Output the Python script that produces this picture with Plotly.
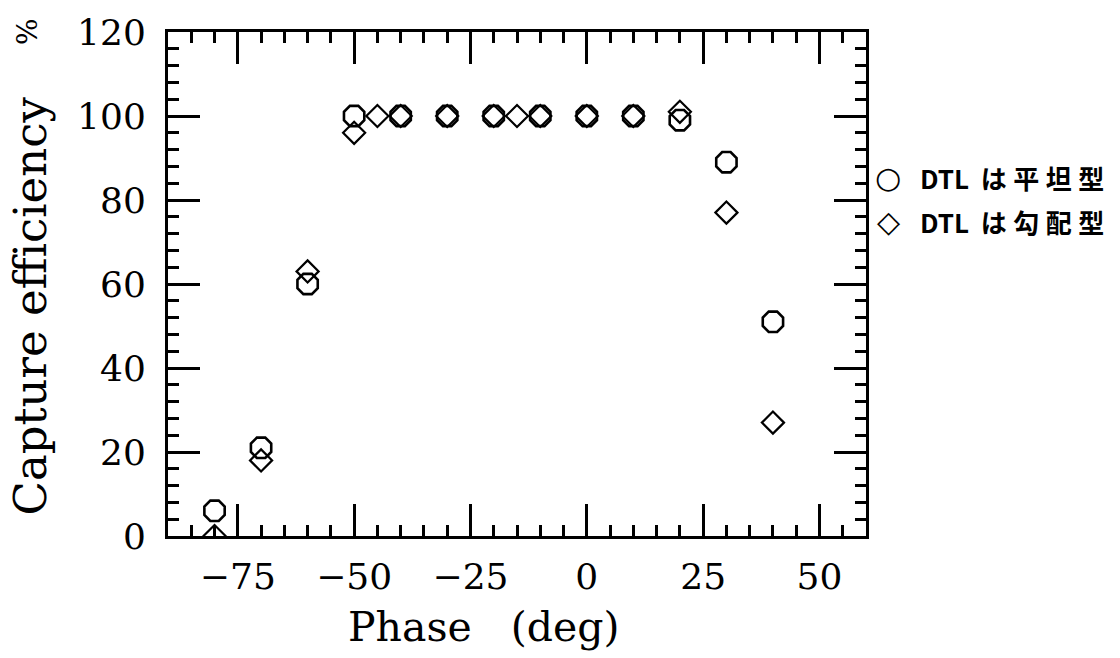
import plotly.graph_objects as go

# Capture efficiency vs. RF phase for two DTL configurations
phase_flat = [-80, -70, -60, -50, -40, -30, -20, -10, 0, 10, 20, 30, 40]
eff_flat = [6, 21, 60, 100, 100, 100, 100, 100, 100, 100, 99, 89, 51]

phase_grad = [-80, -70, -60, -50, -45, -40, -30, -20, -15, -10, 0, 10, 20, 30, 40]
eff_grad = [0, 18, 63, 96, 100, 100, 100, 100, 100, 100, 100, 100, 101, 77, 27]

x_ticks = [-75, -50, -25, 0, 25, 50]
y_ticks = [0, 20, 40, 60, 80, 100, 120]

label_flat = "DTL は平坦型"
label_grad = "DTL は勾配型"

W, H = 1120, 658
L, R, T, B = 168, 866, 22, 536

def px(xp):
    return (xp - L) / (R - L)

def py(yp):
    return (B - yp) / (B - T)

serif = "DejaVu Serif"

fig = go.Figure()
fig.add_trace(go.Scatter(
    x=phase_flat, y=eff_flat, mode="markers", name=label_flat,
    marker=dict(symbol="octagon-open", size=22, color="black",
                line=dict(color="black", width=2.6)),
    showlegend=False, cliponaxis=True))
fig.add_trace(go.Scatter(
    x=phase_grad, y=eff_grad, mode="markers", name=label_grad,
    marker=dict(symbol="diamond-open", size=17, color="black",
                line=dict(color="black", width=2.2)),
    showlegend=False, cliponaxis=True))

axis_common = dict(
    showline=True, linewidth=3, linecolor="black", mirror="allticks",
    ticks="inside", ticklen=32, tickwidth=2.5, tickcolor="black",
    showgrid=False, zeroline=False,
    tickfont=dict(family=serif, size=36, color="black"),
)

fig.update_xaxes(
    range=[-90, 60], tickmode="array", tickvals=x_ticks,
    ticktext=["\u2212" + str(abs(v)) if v < 0 else str(v) for v in x_ticks],
    minor=dict(ticks="inside", ticklen=11, tickwidth=2.5, tickcolor="black",
               dtick=5, tick0=0, showgrid=False),
    ticklabelstandoff=7,
    **axis_common)
fig.update_yaxes(
    range=[0, 120], tickmode="array", tickvals=y_ticks,
    minor=dict(ticks="inside", ticklen=11, tickwidth=2.5, tickcolor="black",
               dtick=4, tick0=0, showgrid=False),
    ticklabelstandoff=12,
    **axis_common)

annotations = [
    dict(text="Phase\u00a0\u00a0\u00a0(deg)", x=px(484), y=py(629),
         xref="paper", yref="paper", xanchor="center", yanchor="middle",
         showarrow=False, font=dict(family=serif, size=41, color="black")),
    dict(text="Capture efficiency", x=px(31), y=py(302),
         xref="paper", yref="paper", xanchor="center", yanchor="middle",
         textangle=-90, showarrow=False,
         font=dict(family=serif, size=45, color="black")),
    dict(text="%", x=px(27), y=py(22),
         xref="paper", yref="paper", xanchor="center", yanchor="middle",
         textangle=-90, showarrow=False,
         font=dict(family=serif, size=28, color="black")),
]

legend_rows = [("\u25cb", label_flat, 170), ("\u25c7", label_grad, 215)]
for sym, lab, yrow in legend_rows:
    annotations.append(dict(
        text=sym, x=px(888), y=py(yrow), xref="paper", yref="paper",
        xanchor="center", yanchor="middle", showarrow=False,
        font=dict(family="DejaVu Sans", size=30, color="black")))
    annotations.append(dict(
        text=lab.replace(" ", "\u00a0\u00a0").replace("は", "は\u2005")
                .replace("平", "平\u2005").replace("坦", "坦\u2005")
                .replace("勾", "勾\u2005").replace("配", "配\u2005"),
        x=px(918), y=py(yrow), xref="paper", yref="paper",
        xanchor="left", yanchor="middle", showarrow=False,
        font=dict(family="Noto Sans CJK JP", size=26, color="black",
                  weight="bold")))

fig.update_layout(
    width=W, height=H,
    margin=dict(l=L, r=W - R, t=T, b=H - B, pad=0),
    paper_bgcolor="white", plot_bgcolor="white",
    showlegend=False,
    annotations=annotations,
)

fig.write_html("out.html")
